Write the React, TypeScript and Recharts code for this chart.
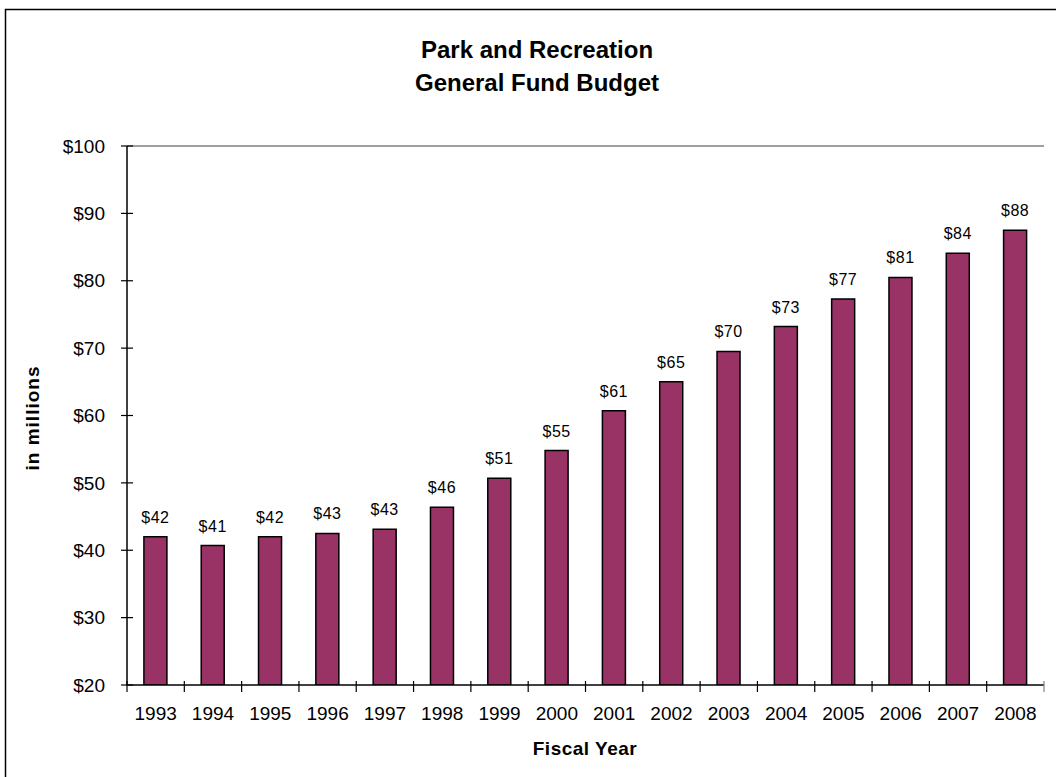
import React from 'react'
import { BarChart, Bar, XAxis, YAxis, LabelList, ReferenceLine } from 'recharts'

const years = ['1993', '1994', '1995', '1996', '1997', '1998', '1999', '2000', '2001', '2002', '2003', '2004', '2005', '2006', '2007', '2008']
const budget = [42.0, 40.7, 42.0, 42.5, 43.1, 46.4, 50.7, 54.8, 60.7, 65.0, 69.5, 73.2, 77.3, 80.5, 84.1, 87.5]
const yTicks = [20, 30, 40, 50, 60, 70, 80, 90, 100]

const data = years.map((year, i) => ({ year, budget: budget[i] }))

const W = 1056
const H = 777
const FONT = '"Liberation Sans", Arial, sans-serif'
const money = (v: number) => `$${Math.round(v)}`

// y tick: small line crossing the axis, label to the left
const YTick = (props: any) => {
  const { x, y, payload } = props
  const axisX = x + 22
  return (
    <g>
      <line x1={axisX - 6} x2={axisX + 6} y1={y} y2={y} stroke="#000" strokeWidth={1.2} />
      <text x={x} y={y} dy="0.35em" textAnchor="end" fontSize={19} fontFamily={FONT} fill="#000">
        {money(payload.value)}
      </text>
    </g>
  )
}

// x tick: marks sit between categories, label in the middle
const XTick = (props: any) => {
  const { x, y, payload, index, visibleTicksCount } = props
  const half = payload.offset ?? 28.6
  const left = payload.coordinate - half
  const right = payload.coordinate + half
  return (
    <g>
      <line x1={left} x2={left} y1={y - 4} y2={y + 7} stroke="#000" strokeWidth={1.2} />
      {index === visibleTicksCount - 1 && (
        <line x1={right} x2={right} y1={y - 4} y2={y + 7} stroke="#808080" strokeWidth={1.2} />
      )}
      <text x={x} y={y + 35} textAnchor="middle" fontSize={19} fontFamily={FONT} fill="#000">
        {payload.value}
      </text>
    </g>
  )
}

export default function App() {
  return (
    <div style={{ position: 'fixed', left: 0, top: 0, width: W, height: H, overflow: 'hidden', background: '#fff' }}>
      <BarChart
        width={W}
        height={H}
        data={data}
        margin={{ top: 146, right: 12, bottom: 52, left: 47 }}
        barCategoryGap="29.5%"
      >
        <XAxis
          dataKey="year"
          height={40}
          interval={0}
          tickSize={0}
          tickMargin={0}
          tickLine={false}
          axisLine={{ stroke: '#000', strokeWidth: 1.5 }}
          tick={<XTick />}
        />
        <YAxis
          width={80}
          domain={[20, 100]}
          ticks={yTicks}
          allowDataOverflow
          tickSize={0}
          tickMargin={22}
          tickLine={false}
          axisLine={{ stroke: '#000', strokeWidth: 1.5 }}
          tick={<YTick />}
        />
        <YAxis
          yAxisId="edge"
          orientation="right"
          width={0}
          domain={[20, 100]}
          tick={false}
          tickLine={false}
          axisLine={{ stroke: '#808080', strokeWidth: 1.5 }}
        />
        <ReferenceLine y={100} stroke="#808080" strokeWidth={1.5} />
        <Bar dataKey="budget" fill="#993366" stroke="#000" strokeWidth={1.5} isAnimationActive={false}>
          <LabelList
            dataKey="budget"
            position="top"
            offset={14}
            formatter={(v: any) => money(Number(v))}
            style={{ fontSize: 16, fontFamily: FONT, fill: '#000', letterSpacing: 0.5 }}
          />
        </Bar>
      </BarChart>
      <svg width={W} height={H} style={{ position: 'absolute', left: 0, top: 0, pointerEvents: 'none' }}>
        <rect x={5.5} y={9.5} width={1200} height={900} fill="none" stroke="#000" strokeWidth={1.5} />
        <text x={537} y={58} textAnchor="middle" fontSize={24} fontWeight="bold" fontFamily={FONT} fill="#000">
          Park and Recreation
        </text>
        <text x={537} y={91} textAnchor="middle" fontSize={24} fontWeight="bold" fontFamily={FONT} fill="#000">
          General Fund Budget
        </text>
        <text x={585} y={755} textAnchor="middle" fontSize={19} fontWeight="bold" fontFamily={FONT} letterSpacing={0.5} fill="#000">
          Fiscal Year
        </text>
        <text
          x={39}
          y={418}
          transform="rotate(-90, 39, 418)"
          textAnchor="middle"
          fontSize={19}
          fontWeight="bold"
          fontFamily={FONT}
          letterSpacing={1}
          fill="#000"
        >
          in millions
        </text>
      </svg>
    </div>
  )
}
